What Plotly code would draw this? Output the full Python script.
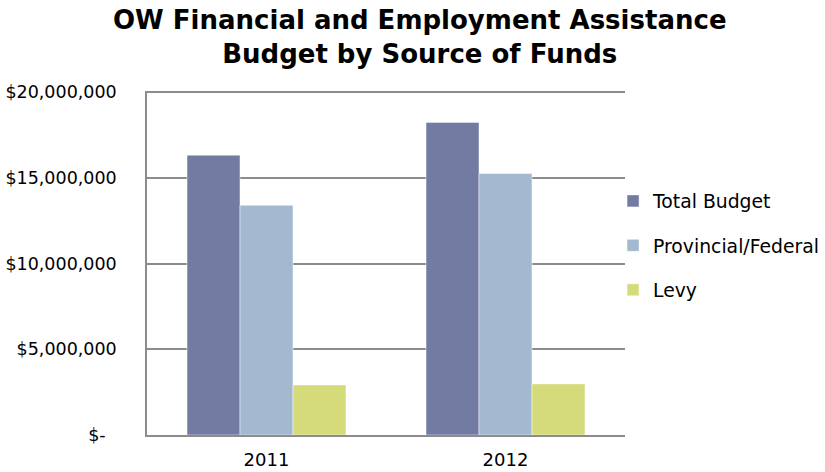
import plotly.graph_objects as go

years = ["2011", "2012"]
series_names = ["Total Budget", "Provincial/Federal", "Levy"]
total_budget = [16320000, 18230000]
provincial_federal = [13400000, 15250000]
levy = [2920000, 2980000]
colors = ["#727CA3", "#A3B9D0", "#D5DB7A"]

tick_vals = [0, 5000000, 10000000, 15000000, 20000000]
tick_text = ["$-\u00a0\u00a0", "$5,000,000", "$10,000,000", "$15,000,000", "$20,000,000"]

title_lines = ["OW Financial and Employment Assistance", "Budget by Source of Funds"]

font_family = "DejaVu Sans"

fig = go.Figure()
for name, vals, col in zip(series_names, [total_budget, provincial_federal, levy], colors):
    fig.add_trace(go.Bar(
        x=years, y=vals, name=name, legendgroup=name,
        marker=dict(color=col, line=dict(color="rgba(255,255,255,0.6)", width=0.8)),
    ))

# Two-line bold title placed above the plot area
fig.add_annotation(
    text="<b>" + "<br>".join(title_lines) + "</b>",
    xref="paper", yref="paper", x=0.571, y=1.157,
    xanchor="center", yanchor="middle", showarrow=False,
    font=dict(family=font_family, size=26, color="black"),
)

fig.update_layout(
    width=825, height=472,
    margin=dict(l=147, r=200, t=91, b=37, autoexpand=False),
    paper_bgcolor="white", plot_bgcolor="white",
    barmode="group", bargap=0.335, bargroupgap=0,
    font=dict(family=font_family, size=17.5, color="black"),
    legend=dict(
        x=0.975, xanchor="left", y=0.735, yanchor="top",
        bgcolor="rgba(0,0,0,0)",
        font=dict(size=18.8), tracegroupgap=17, traceorder="grouped",
        itemwidth=30,
    ),
    xaxis=dict(
        showline=True, linecolor="#8C8C8C", linewidth=1.5,
        tickfont=dict(size=18), ticks="", ticklabelstandoff=8,
    ),
    yaxis=dict(
        # a little headroom so the top gridline is not clipped at the plot edge
        range=[0, 20060000], tickvals=tick_vals, ticktext=tick_text,
        showgrid=True, gridcolor="#8C8C8C", gridwidth=1.5,
        showline=True, linecolor="#8C8C8C", linewidth=1.5,
        ticks="", ticklabelstandoff=25, zeroline=False,
    ),
)

fig.write_html("out.html")
